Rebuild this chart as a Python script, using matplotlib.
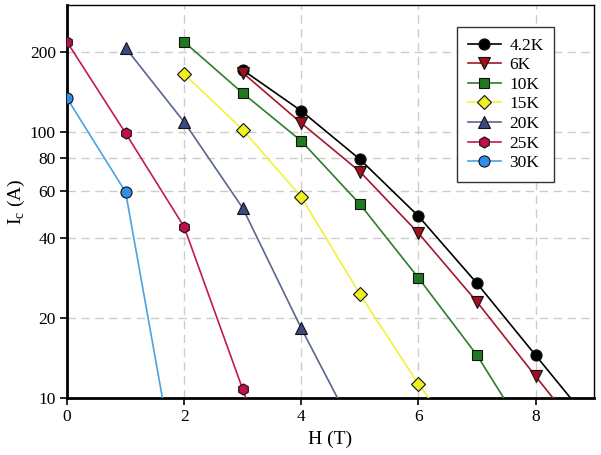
import matplotlib
matplotlib.use("Agg")
import matplotlib.pyplot as plt
from matplotlib.ticker import FixedLocator, FixedFormatter, NullLocator

plt.rcParams['font.family'] = ['Liberation Serif', 'DejaVu Serif']
plt.rcParams['mathtext.fontset'] = 'custom'
plt.rcParams['mathtext.rm'] = 'Liberation Serif'

labels = ["4.2K", "6K", "10K", "15K", "20K", "25K", "30K"]
h_42 = [3, 4, 5, 6, 7, 8, 9]
ic_42 = [171, 120, 79, 48.3, 27, 14.5, 7.8]
h_6 = [3, 4, 5, 6, 7, 8, 9]
ic_6 = [167, 108, 71, 41.7, 23, 12.1, 6.4]
h_10 = [2, 3, 4, 5, 6, 7, 8]
ic_10 = [218, 140, 92.5, 53.6, 28.3, 14.5, 6.45]
h_15 = [2, 3, 4, 5, 6, 7]
ic_15 = [165, 102, 57, 24.6, 11.3, 5.7]
h_20 = [1, 2, 3, 4, 5]
ic_20 = [207, 109, 51.8, 18.3, 6.9]
h_25 = [0, 1, 2, 3, 4]
ic_25 = [218, 99, 44, 10.8, 2.7]
h_30 = [0, 1, 2]
ic_30 = [134, 59.5, 3.5]

xs = [h_42, h_6, h_10, h_15, h_20, h_25, h_30]
ys = [ic_42, ic_6, ic_10, ic_15, ic_20, ic_25, ic_30]
line_colors = ["#000000", "#a3182a", "#2e7d2e", "#f2f23a", "#5a6690", "#c2185b", "#4aa3e0"]
face_colors = ["#000000", "#a01020", "#1f7a1f", "#f0f020", "#3c4a80", "#c0104a", "#3090e8"]
markers = ["o", "v", "s", "D", "^", "h", "o"]
msizes = [8, 8, 7, 7, 8, 8, 8]

yticks = [10, 20, 40, 60, 80, 100, 200]
xticks = [0, 2, 4, 6, 8]

fig = plt.figure(figsize=(6.01, 4.55), dpi=100)
ax = fig.add_axes([0.1115, 0.125, 0.877, 0.864])

for x, y, lab, lc, fc, m, ms in zip(xs, ys, labels, line_colors, face_colors, markers, msizes):
    ax.plot(x, y, color=lc, lw=1.2, marker=m, markersize=ms, markerfacecolor=fc,
            markeredgecolor="#111111", markeredgewidth=0.8, label=lab, zorder=3)

ax.set_yscale("log")
ax.set_xlim(0, 9)
ax.set_ylim(10, 300)
ax.yaxis.set_major_locator(FixedLocator(yticks))
ax.yaxis.set_major_formatter(FixedFormatter([str(t) for t in yticks]))
ax.yaxis.set_minor_locator(NullLocator())
ax.set_xticks(xticks)
ax.set_xticklabels([str(t) for t in xticks])

ax.grid(True, color="#cccccc", linestyle=(0, (6, 4)), linewidth=1.0, zorder=0)
ax.set_axisbelow(True)

for s in ["left", "bottom"]:
    ax.spines[s].set_linewidth(2.0)
for s in ["top", "right"]:
    ax.spines[s].set_linewidth(1.0)

ax.tick_params(direction="out", labelsize=12.5, length=5, width=1.2, pad=3)
ax.set_xlabel("H (T)", fontsize=14, labelpad=4)
ax.set_ylabel(r"I$_\mathrm{c}$ (A)", fontsize=14, labelpad=2)

leg = ax.legend(loc="upper right", bbox_to_anchor=(0.924, 0.944), fontsize=12.5,
                frameon=True, fancybox=False, edgecolor="#333333", framealpha=1,
                handlelength=1.9, handletextpad=0.5, labelspacing=0.2, borderpad=0.6,
                borderaxespad=0)
leg.get_frame().set_linewidth(1.0)

fig.savefig("out.png", dpi=100)
